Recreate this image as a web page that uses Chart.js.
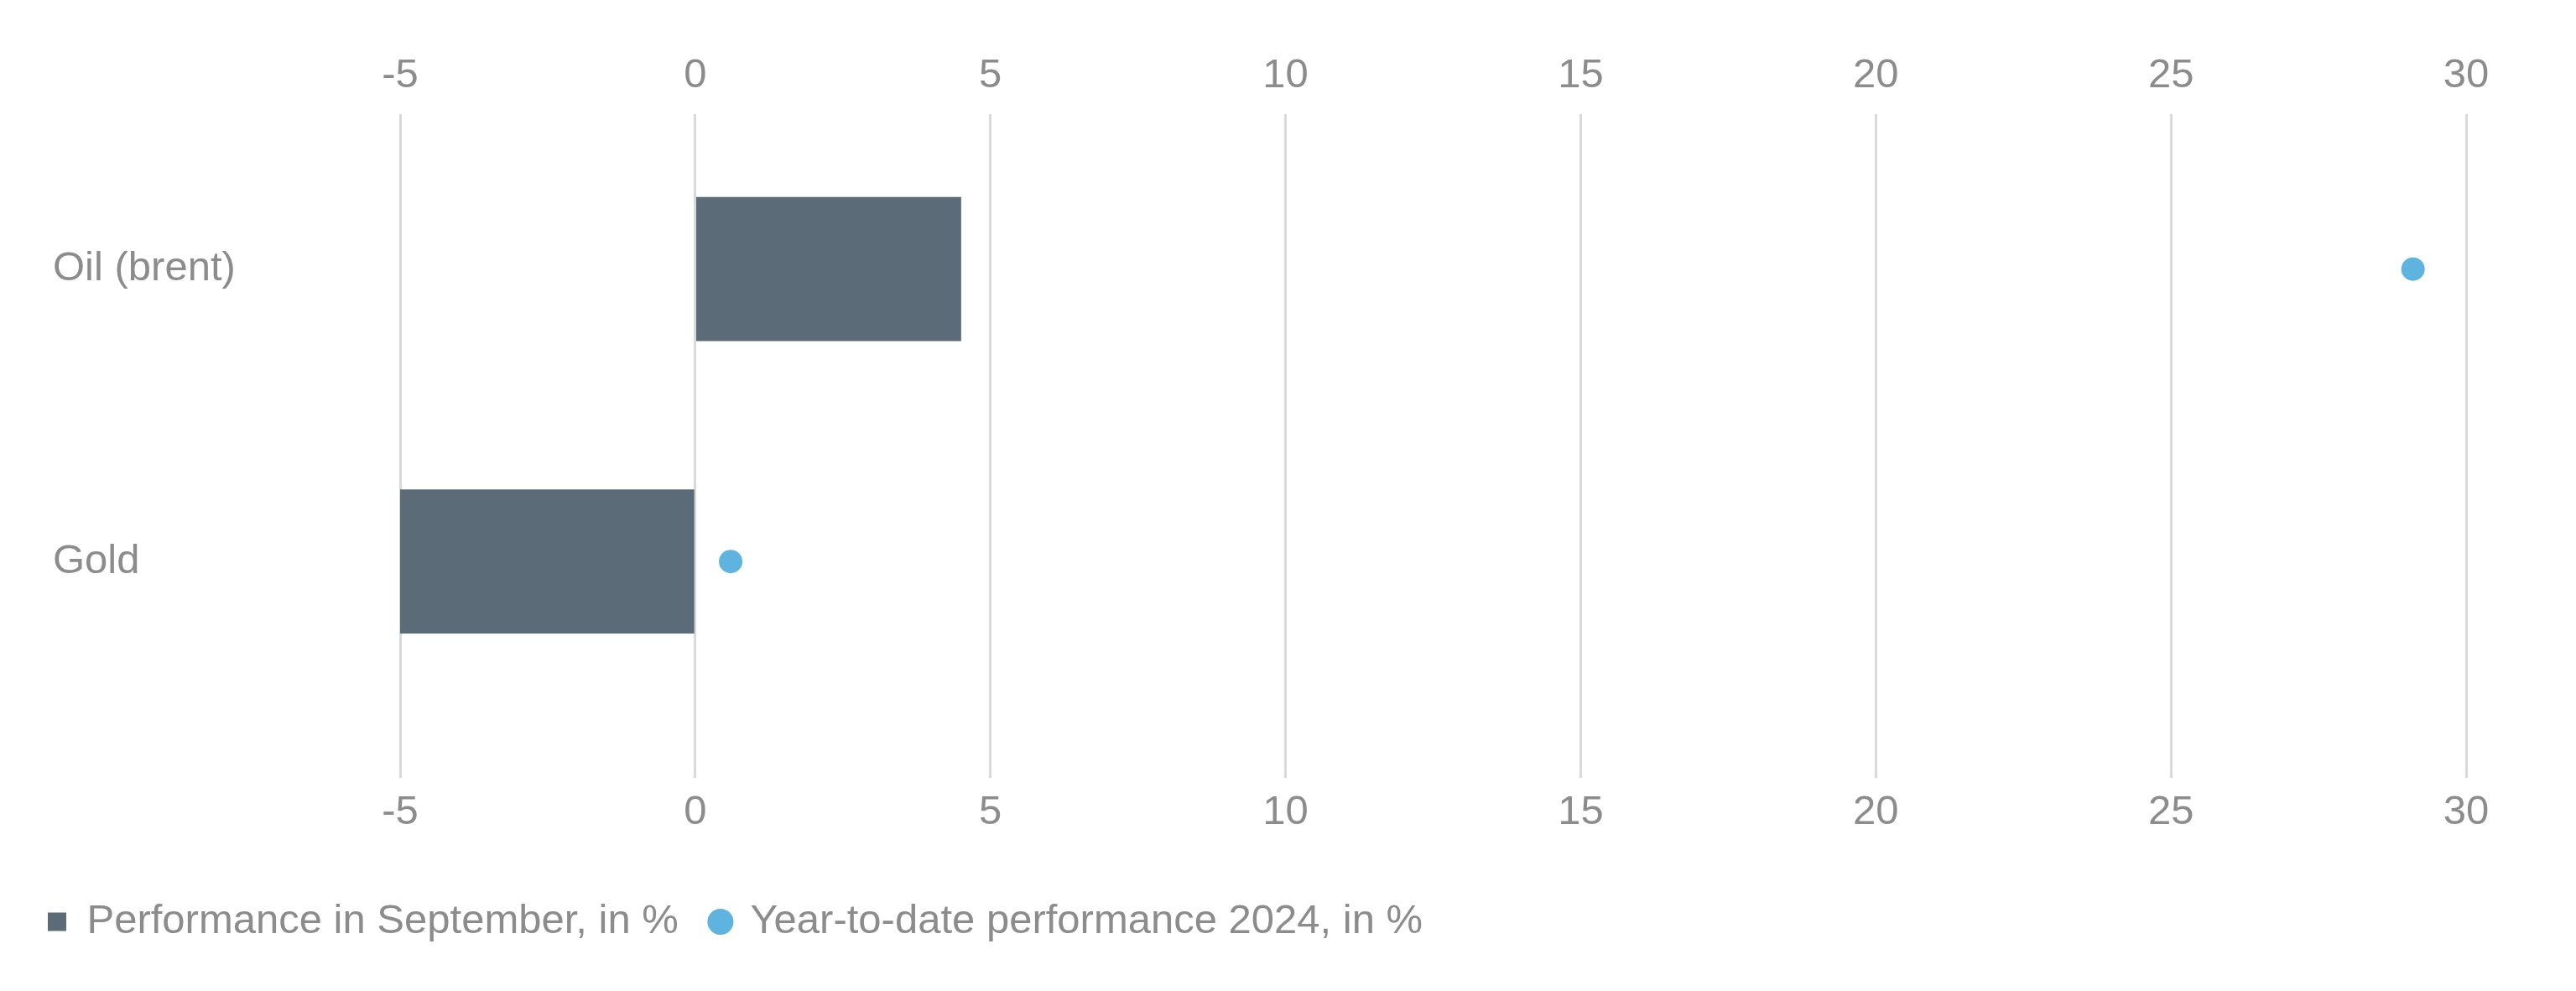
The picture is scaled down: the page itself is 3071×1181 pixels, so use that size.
<!DOCTYPE html>
<html>
<head>
<meta charset="utf-8">
<script src="https://cdn.jsdelivr.net/npm/chart.js@4/dist/chart.umd.min.js"></script>
<style>
  html, body { margin: 0; padding: 0; background: #fff; }
  #wrap { width: 3071px; height: 1181px; }
</style>
</head>
<body>
<div id="wrap"><canvas id="perf"></canvas></div>
<script>
const categories = ["Oil (brent)", "Gold"];
const septemberPerf = [4.5, -5.0];
const ytdPerf = [29.1, 0.6];
const xTicks = [-5, 0, 5, 10, 15, 20, 25, 30];

const textGrey = "#8c8c8c";
const font = { family: "'Liberation Sans', Arial, sans-serif", size: 49 };

// y is a linear index axis (0 = Oil, 1 = Gold) so the plot keeps the extra room below Gold
const barPoints = septemberPerf.map((v, i) => ({ x: v, y: i }));
const dotPoints = ytdPerf.map((v, i) => ({ x: v, y: i }));

const setXTicks = (scale) => { scale.ticks = xTicks.map((v) => ({ value: v })); };

let ctx = document.querySelector("#perf").getContext("2d");

new Chart(ctx, {
  type: "bar",
  data: {
    datasets: [
      {
        label: "Performance in September, in %",
        data: barPoints,
        backgroundColor: "#5b6c78",
        barThickness: 171,
        pointStyle: "rect",
      },
      {
        type: "scatter",
        label: "Year-to-date performance 2024, in %",
        data: dotPoints,
        backgroundColor: "#5eb4de",
        borderWidth: 0,
        pointRadius: 14,
        pointStyle: "circle",
      },
    ],
  },
  options: {
    indexAxis: "y",
    responsive: true,
    maintainAspectRatio: false,
    animation: false,
    devicePixelRatio: 1,
    layout: {
      padding: { left: 18, right: 131, top: 56, bottom: 48 },
    },
    plugins: {
      legend: {
        position: "bottom",
        align: "start",
        labels: {
          usePointStyle: true,
          boxWidth: 22,
          boxHeight: 22,
          padding: 39,
          color: textGrey,
          font: font,
        },
      },
      tooltip: { enabled: false },
    },
    scales: {
      x: {
        type: "linear",
        position: "bottom",
        min: -5,
        max: 30,
        afterBuildTicks: setXTicks,
        afterFit: (scale) => { scale.height = 108; },
        grid: {
          color: "#d9d9d9",
          lineWidth: 3,
          drawTicks: false,
        },
        border: { display: false },
        ticks: { color: textGrey, font: font, padding: 12 },
      },
      xTop: {
        type: "linear",
        axis: "x",
        position: "top",
        min: -5,
        max: 30,
        afterBuildTicks: setXTicks,
        afterFit: (scale) => { scale.height = 80; },
        grid: { display: false, drawTicks: false },
        border: { display: false },
        ticks: { color: textGrey, font: font, padding: 16 },
      },
      y: {
        type: "linear",
        min: -0.53,
        max: 1.74,
        reverse: true,
        offset: false,
        afterBuildTicks: (scale) => {
          scale.ticks = categories.map((c, i) => ({ value: i }));
        },
        afterFit: (scale) => { scale.width = 459; },
        grid: { display: false, drawTicks: false, offset: false },
        border: { display: false },
        ticks: {
          mirror: true,
          padding: -414,
          crossAlign: "near",
          color: textGrey,
          font: font,
          callback: (value) => categories[value] || "",
        },
      },
    },
  },
});
</script>
</body>
</html>
